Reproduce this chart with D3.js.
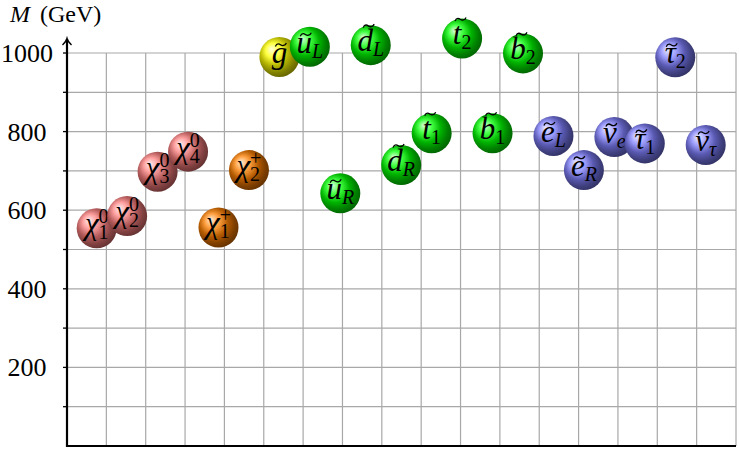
<!DOCTYPE html>
<html lang="en">
<head>
<meta charset="utf-8">
<title>Sparticle mass spectrum</title>
<script src="https://cdn.jsdelivr.net/npm/d3@7"></script>
<style>
  body { margin: 0; background: #fff; }
  text { font-family: "Liberation Serif", "DejaVu Serif", serif; }
</style>
</head>
<body>
<script>
// one entry per particle, left to right
var particles = ["chi10", "chi20", "chi30", "chi40", "chi1p", "chi2p", "gluino",
  "uL", "uR", "dL", "dR", "t1", "t2", "b1", "b2", "eL", "eR", "nue", "tau1", "tau2", "nutau"];
var symbols = ["χ", "χ", "χ", "χ", "χ", "χ", "g", "u", "u", "d", "d", "t", "t", "b", "b",
  "e", "e", "ν", "τ", "τ", "ν"];
var subs = ["1", "2", "3", "4", "1", "2", "", "L", "R", "L", "R", "1", "2", "1", "2",
  "L", "R", "e", "1", "2", "τ"];
var sups = ["0", "0", "0", "0", "+", "+", "", "", "", "", "", "", "", "", "", "", "", "", "", "", ""];
var groups = ["neutralino", "neutralino", "neutralino", "neutralino", "chargino", "chargino",
  "gluino", "squark", "squark", "squark", "squark", "squark", "squark", "squark", "squark",
  "slepton", "slepton", "slepton", "slepton", "slepton", "slepton"];
var masses = [554, 585, 698, 749, 556, 702, 990, 1016, 643, 1020, 715, 796, 1037, 796, 999,
  789, 702, 786, 770, 989, 766];
var yTicks = [200, 400, 600, 800, 1000];

var groupNames = ["neutralino", "chargino", "gluino", "squark", "slepton"];
var groupColors = ["#ff8080", "#ff8000", "#ffff00", "#00ff00", "#8080ff"];

var width = 739, height = 450;
var svg = d3.select("body").append("svg")
    .attr("width", width)
    .attr("height", height);

var gx = d3.scaleLinear().domain([0, 17]).range([67, 736]);
var y = d3.scaleLinear().domain([0, 1000]).range([446, 53]);
var x = d3.scalePoint().domain(particles).range([96.7, 705.7]);
var color = d3.scaleOrdinal().domain(groupNames).range(groupColors);

// tikz-like ball shading
function mix(c, t, other) {
    var a = d3.rgb(c), b = d3.rgb(other);
    return d3.rgb(a.r * t + b.r * (1 - t), a.g * t + b.g * (1 - t), a.b * t + b.b * (1 - t)).formatHex();
}
var defs = svg.append("defs");
groupNames.forEach(function (g) {
    var c = color(g);
    var grad = defs.append("radialGradient")
        .attr("id", "ball-" + g)
        .attr("cx", 0.5).attr("cy", 0.5).attr("r", 1)
        .attr("fx", 0.3).attr("fy", 0.3);
    [[0, mix(c, 0.15, "#fff")], [0.18, mix(c, 0.75, "#fff")], [0.36, mix(c, 0.7, "#000")],
     [0.5, mix(c, 0.5, "#000")], [1, "#000"]].forEach(function (s) {
        grad.append("stop").attr("offset", s[0]).attr("stop-color", s[1]);
    });
});

// grid
var grid = svg.append("g").attr("stroke", "#a8a8a8").attr("stroke-width", 1.2);
grid.selectAll("line.h")
    .data(d3.range(100, 1001, 100))
    .enter().append("line")
    .attr("x1", gx(0)).attr("x2", gx(17))
    .attr("y1", function (d) { return y(d); })
    .attr("y2", function (d) { return y(d); });
grid.selectAll("line.v")
    .data(d3.range(1, 18))
    .enter().append("line")
    .attr("y1", y(0)).attr("y2", y(1000))
    .attr("x1", function (d) { return gx(d); })
    .attr("x2", function (d) { return gx(d); });

// axes
svg.append("line")
    .attr("x1", gx(0)).attr("x2", gx(17))
    .attr("y1", y(0)).attr("y2", y(0))
    .attr("stroke", "#000").attr("stroke-width", 2.2);
svg.append("line")
    .attr("x1", gx(0)).attr("x2", gx(0))
    .attr("y1", y(0) + 1).attr("y2", 39.5)
    .attr("stroke", "#000").attr("stroke-width", 2.2);
svg.append("path")
    .attr("d", "M" + (gx(0) - 4.5) + ",45 Q" + (gx(0) - 1) + ",42 " + gx(0) + ",38.5 Q" +
        (gx(0) + 1) + ",42 " + (gx(0) + 4.5) + ",45")
    .attr("fill", "none").attr("stroke", "#000").attr("stroke-width", 1.5);

svg.append("g").selectAll("line")
    .data(d3.range(100, 1001, 100))
    .enter().append("line")
    .attr("x1", gx(0) - 4).attr("x2", gx(0))
    .attr("y1", function (d) { return y(d); })
    .attr("y2", function (d) { return y(d); })
    .attr("stroke", "#000").attr("stroke-width", 1.3);

svg.append("g").selectAll("text")
    .data(yTicks)
    .enter().append("text")
    .attr("x", 27)
    .attr("y", function (d) { return y(d) + 9; })
    .attr("text-anchor", "middle")
    .attr("font-size", 26)
    .text(function (d) { return d; });

var title = svg.append("text")
    .attr("x", 10).attr("y", 22)
    .attr("font-size", 24);
title.append("tspan").attr("font-style", "italic").text("M");
title.append("tspan").attr("dx", 10).text("(GeV)");

// balls
var node = svg.selectAll("g.node")
    .data(particles)
    .enter().append("g")
    .attr("class", "node")
    .attr("transform", function (d, i) {
        return "translate(" + x(d) + "," + y(masses[i]) + ")";
    });

node.append("circle")
    .attr("r", 20)
    .attr("fill", function (d, i) { return "url(#ball-" + groups[i] + ")"; });

node.each(function (d, i) {
    var g = d3.select(this);
    var t = g.append("text")
        .attr("y", 6)
        .attr("text-anchor", "middle")
        .attr("font-size", 31);
    t.append("tspan")
        .attr("font-style", "italic")
        .text(symbols[i]);
    if (subs[i]) {
        t.append("tspan")
            .attr("font-size", 20)
            .attr("font-style", /[0-9]/.test(subs[i]) ? "normal" : "italic")
            .attr("dy", 5)
            .text(subs[i]);
    }
    if (sups[i]) {
        t.append("tspan")
            .attr("font-size", 20)
            .attr("dx", -10)
            .attr("dy", -16)
            .text(sups[i]);
    }
    // tilde drawn over the main letter
    if (symbols[i] !== "χ") {
        var box = t.node().getExtentOfChar(0);
        var tall = /[bdt]/.test(symbols[i]);
        var cx = box.x + box.width / 2 + (tall ? 3.5 : 1.5);
        var ty = tall ? -19 : -12;
        g.append("path")
            .attr("d", "M" + (cx - 5.5) + "," + (ty + 1.5) +
                " C" + (cx - 4) + "," + (ty - 2.5) + " " + (cx - 1.5) + "," + (ty - 1) + " " + cx + "," + ty +
                " S" + (cx + 4) + "," + (ty + 1) + " " + (cx + 5.5) + "," + (ty - 2))
            .attr("fill", "none")
            .attr("stroke", "#000")
            .attr("stroke-width", 1.3);
    }
});
</script>
</body>
</html>
